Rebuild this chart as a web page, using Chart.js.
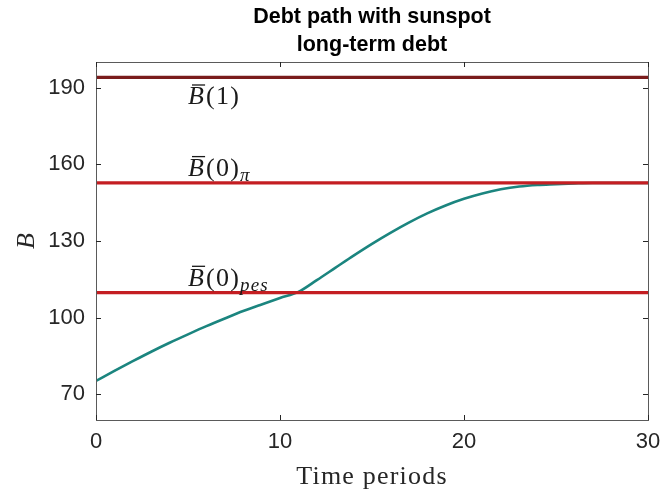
<!DOCTYPE html>
<html>
<head>
<meta charset="utf-8">
<script src="https://cdn.jsdelivr.net/npm/chart.js@4/dist/chart.umd.min.js"></script>
<style>
  html, body { margin: 0; padding: 0; background: #fff; }
  #wrap { width: 660px; height: 497px; position: relative; }
</style>
</head>
<body>
<div id="wrap"><canvas id="c" width="660" height="497"></canvas></div>
<script>
// ---- data ----
const titleLines = ['Debt path with sunspot', 'long-term debt'];
const xLabel = 'Time periods';
const yLabel = 'B';
const periods = [0,1,2,3,4,5,6,7,8,9,10,11,12,13,14,15,16,17,18,19,20,21,22,23,24,25,26,27,28,29,30];
const debtPath = [75.3,79.2,83.0,86.7,90.2,93.5,96.7,99.7,102.6,105.2,107.7,110.1,114.7,119.5,124.3,128.9,133.2,137.2,140.8,143.9,146.5,148.6,150.2,151.3,151.9,152.2,152.5,152.7,152.7,152.7,152.7];
const levelSubs = ['', 'π', 'pes'];
const levelArgs = ['(1)', '(0)', '(0)'];
const levels = [194.0, 152.7, 109.8];
const levelColors = ['#7a1c1c', '#c41e22', '#c41e22'];
const labelAt = 5;
const xTicks = [0, 10, 20, 30];
const yTicks = [70, 100, 130, 160, 190];

const pathColor = '#1b857f';

const datasets = [];
levels.forEach((v, i) => {
  datasets.push({
    label: 'level' + i,
    data: [{x: periods[0], y: v}, {x: periods[periods.length - 1], y: v}],
    borderColor: levelColors[i],
    borderWidth: 3.2,
    pointRadius: 0,
    order: 0
  });
});
datasets.push({
  label: 'path',
  data: periods.map((t, i) => ({x: t, y: debtPath[i]})),
  borderColor: pathColor,
  borderWidth: 2.6,
  pointRadius: 0,
  cubicInterpolationMode: 'monotone',
  order: 1
});

const frame = {
  id: 'frame',
  afterDatasetsDraw(chart) {
    const {ctx, chartArea: a, scales} = chart;
    const xs = scales.x, ys = scales.y;
    ctx.save();
    // box
    ctx.strokeStyle = '#5a5a5a';
    ctx.lineWidth = 1;
    ctx.strokeRect(Math.round(a.left) + 0.5, Math.round(a.top) + 0.5, Math.round(a.right - a.left), Math.round(a.bottom - a.top));
    // inward ticks
    ctx.strokeStyle = '#262626';
    const tl = 5;
    ctx.beginPath();
    xTicks.forEach(v => {
      const px = Math.round(xs.getPixelForValue(v)) + 0.5;
      ctx.moveTo(px, a.bottom); ctx.lineTo(px, a.bottom - tl);
      ctx.moveTo(px, a.top); ctx.lineTo(px, a.top + tl);
    });
    yTicks.forEach(v => {
      const py = Math.round(ys.getPixelForValue(v)) + 0.5;
      ctx.moveTo(a.left, py); ctx.lineTo(a.left + tl, py);
      ctx.moveTo(a.right, py); ctx.lineTo(a.right - tl, py);
    });
    ctx.stroke();

    // level annotations
    ctx.fillStyle = '#1a1a1a';
    ctx.textBaseline = 'alphabetic';
    ctx.letterSpacing = '1.2px';
    levels.forEach((v, i) => {
      const ly = ys.getPixelForValue(v);
      const base = i === 0 ? ly + 27 : ly - 7;
      let x = xs.getPixelForValue(labelAt);
      ctx.textAlign = 'left';
      ctx.font = 'italic 26px "Liberation Serif"';
      const bw = ctx.measureText('B').width;
      ctx.fillText('B', x, base);
      // bar over B
      ctx.fillRect(x + 4, base - 20, bw - 4, 1.3);
      x += bw + 1;
      ctx.font = '26px "Liberation Serif"';
      ctx.fillText(levelArgs[i], x, base);
      x += ctx.measureText(levelArgs[i]).width;
      if (levelSubs[i]) {
        ctx.font = 'italic 19px "Liberation Serif"';
        ctx.fillText(levelSubs[i], x, base + 5);
      }
    });
    ctx.letterSpacing = '0px';

    // title
    ctx.fillStyle = '#000';
    ctx.textAlign = 'center';
    ctx.font = 'bold 21.5px "Liberation Sans"';
    const cx = (a.left + a.right) / 2;
    ctx.fillText(titleLines[0], cx, 23);
    ctx.fillText(titleLines[1], cx, 51);

    // axis labels
    ctx.fillStyle = '#262626';
    ctx.letterSpacing = '1.2px';
    ctx.font = '26px "Liberation Serif"';
    ctx.fillText(xLabel, cx, 484);
    ctx.letterSpacing = '0px';
    ctx.save();
    ctx.translate(34, (a.top + a.bottom) / 2);
    ctx.rotate(-Math.PI / 2);
    ctx.font = 'italic 26px "Liberation Serif"';
    ctx.fillText(yLabel, 0, 0);
    ctx.restore();
    ctx.restore();
  }
};

new Chart(document.getElementById('c'), {
  type: 'line',
  data: { datasets },
  options: {
    responsive: false,
    animation: false,
    devicePixelRatio: 1,
    layout: { padding: { top: 62, right: 12, left: 0, bottom: 0 } },
    plugins: { legend: { display: false }, tooltip: { enabled: false }, title: { display: false } },
    scales: {
      x: {
        type: 'linear', min: 0, max: 30,
        afterBuildTicks: s => { s.ticks = xTicks.map(v => ({value: v})); },
        afterFit: s => { s.height = 77; s.paddingLeft = 0; s.paddingRight = 0; },
        grid: { display: false, drawTicks: false },
        border: { display: false },
        ticks: { color: '#262626', font: { family: 'Liberation Sans', size: 22 }, padding: 9, maxRotation: 0 }
      },
      y: {
        type: 'linear', min: 60, max: 200,
        afterBuildTicks: s => { s.ticks = yTicks.map(v => ({value: v})); },
        afterFit: s => { s.width = 96; s.paddingTop = 0; s.paddingBottom = 0; },
        grid: { display: false, drawTicks: false },
        border: { display: false },
        ticks: { color: '#262626', font: { family: 'Liberation Sans', size: 22 }, padding: 11 }
      }
    }
  },
  plugins: [frame]
});
</script>
</body>
</html>
